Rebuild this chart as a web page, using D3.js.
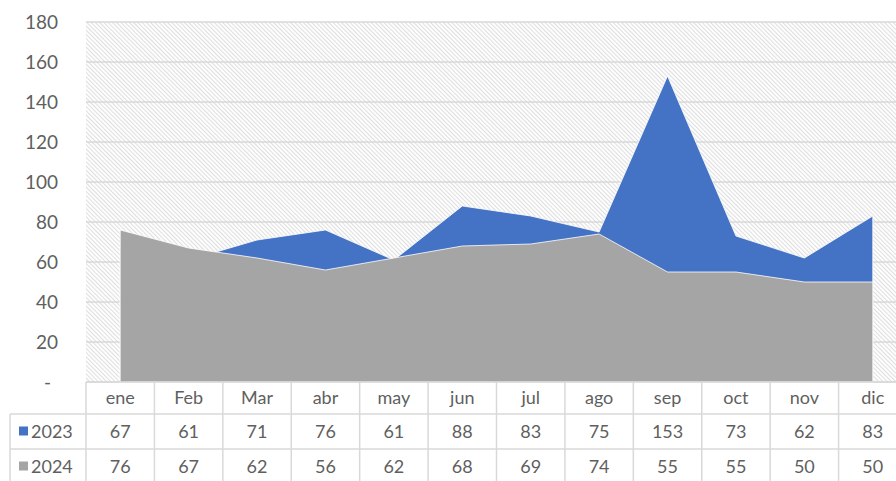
<!DOCTYPE html>
<html>
<head>
<meta charset="utf-8">
<script src="https://cdn.jsdelivr.net/npm/d3@7"></script>
<style>
  html, body { margin: 0; padding: 0; background: #fff; }
  svg { display: block; font-family: Lato, 'Open Sans', sans-serif; }
</style>
</head>
<body>
<svg id="chart" width="896" height="481"></svg>
<script>
"use strict";

// data
const months = ['ene', 'Feb', 'Mar', 'abr', 'may', 'jun', 'jul', 'ago', 'sep', 'oct', 'nov', 'dic'];
const seriesNames = ['2023', '2024'];
const values2023 = [67, 61, 71, 76, 61, 88, 83, 75, 153, 73, 62, 83];
const values2024 = [76, 67, 62, 56, 62, 68, 69, 74, 55, 55, 50, 50];
const yTicks = [0, 20, 40, 60, 80, 100, 120, 140, 160, 180];

const colors = { '2023': '#4472C4', '2024': '#A5A5A5' };
const textColor = '#5f5f5f';
const lineColor = '#d9d9d9';

const svg = d3.select('#chart');

const plotLeft = 86, plotRight = 907, plotTop = 22, plotBottom = 382;
const rowTops = [382, 414, 449, 484];

const x = d3.scaleBand().domain(months).range([plotLeft, plotRight]);
const y = d3.scaleLinear().domain([0, 180]).range([plotBottom, plotTop]);
const cx = m => x(m) + x.bandwidth() / 2;

// hatched plot background
const defs = svg.append('defs');
const pat = defs.append('pattern')
  .attr('id', 'hatch')
  .attr('patternUnits', 'userSpaceOnUse')
  .attr('width', 3).attr('height', 3)
  .attr('patternTransform', 'rotate(-45)');
pat.append('rect').attr('width', 3).attr('height', 3).attr('fill', '#fff');
pat.append('line')
  .attr('x1', 0.6).attr('y1', 0).attr('x2', 0.6).attr('y2', 3)
  .attr('stroke', '#dcdcdc').attr('stroke-width', 1);

svg.append('rect')
  .attr('x', plotLeft).attr('y', plotTop)
  .attr('width', plotRight - plotLeft).attr('height', plotBottom - plotTop)
  .attr('fill', 'url(#hatch)');

// gridlines
svg.append('g').selectAll('line').data(yTicks).enter().append('line')
  .attr('x1', plotLeft).attr('x2', plotRight)
  .attr('y1', d => y(d)).attr('y2', d => y(d))
  .attr('stroke', lineColor).attr('stroke-width', 1.5);

// y axis labels
const yAxis = d3.axisLeft(y).tickValues(yTicks)
  .tickSize(0).tickPadding(0)
  .tickFormat(d => d === 0 ? '-' : d);
const yg = svg.append('g').attr('transform', 'translate(58,0)').call(yAxis);
yg.select('.domain').remove();
yg.selectAll('text')
  .attr('fill', textColor).attr('font-size', '19px')
  .attr('font-family', "Lato, 'Open Sans', sans-serif")
  .attr('dx', d => d === 0 ? -7 : 0);

// areas (not stacked, 2024 drawn over 2023)
const area = d3.area()
  .x((d, i) => cx(months[i]))
  .y0(y(0))
  .y1(d => y(d));

[[values2023, '2023'], [values2024, '2024']].forEach(([vals, name]) => {
  svg.append('path')
    .datum(vals)
    .attr('d', area)
    .attr('fill', colors[name])
    .attr('stroke', '#fff').attr('stroke-width', 0.8)
    .attr('stroke-linejoin', 'round');
});

// data table
const tbl = svg.append('g');
// horizontal lines
tbl.append('line').attr('x1', plotLeft).attr('x2', plotRight)
  .attr('y1', rowTops[0]).attr('y2', rowTops[0])
  .attr('stroke', lineColor).attr('stroke-width', 1.5);
[rowTops[1], rowTops[2], rowTops[3]].forEach(yy => {
  tbl.append('line').attr('x1', 10).attr('x2', plotRight)
    .attr('y1', yy).attr('y2', yy)
    .attr('stroke', lineColor).attr('stroke-width', 1.5);
});
// vertical lines
const bounds = months.map(m => x(m)).concat([plotRight]);
tbl.selectAll('.vline').data(bounds).enter().append('line')
  .attr('class', 'vline')
  .attr('x1', d => d).attr('x2', d => d)
  .attr('y1', rowTops[0]).attr('y2', rowTops[3])
  .attr('stroke', lineColor).attr('stroke-width', 1.5);
tbl.append('line').attr('x1', 10).attr('x2', 10)
  .attr('y1', rowTops[1]).attr('y2', rowTops[3])
  .attr('stroke', lineColor).attr('stroke-width', 1.5);

// header
tbl.selectAll('.hdr').data(months).enter().append('text')
  .attr('class', 'hdr')
  .attr('x', d => cx(d))
  .attr('y', (rowTops[0] + rowTops[1]) / 2)
  .attr('dy', '0.35em').attr('text-anchor', 'middle')
  .attr('fill', textColor).attr('font-size', '18px')
  .text(d => d);

// series rows
[values2023, values2024].forEach((vals, r) => {
  const name = seriesNames[r];
  const midY = (rowTops[r + 1] + rowTops[r + 2]) / 2;
  tbl.append('rect')
    .attr('x', 19).attr('y', midY - 5)
    .attr('width', 9).attr('height', 9)
    .attr('fill', colors[name]);
  tbl.append('text')
    .attr('x', 31).attr('y', midY)
    .attr('dy', '0.35em')
    .attr('fill', textColor).attr('font-size', '18px')
    .text(name);
  tbl.selectAll('.v' + name).data(vals).enter().append('text')
    .attr('class', 'v' + name)
    .attr('x', (d, i) => cx(months[i]))
    .attr('y', midY)
    .attr('dy', '0.35em').attr('text-anchor', 'middle')
    .attr('fill', textColor).attr('font-size', '18px')
    .text(d => d);
});
</script>
</body>
</html>
